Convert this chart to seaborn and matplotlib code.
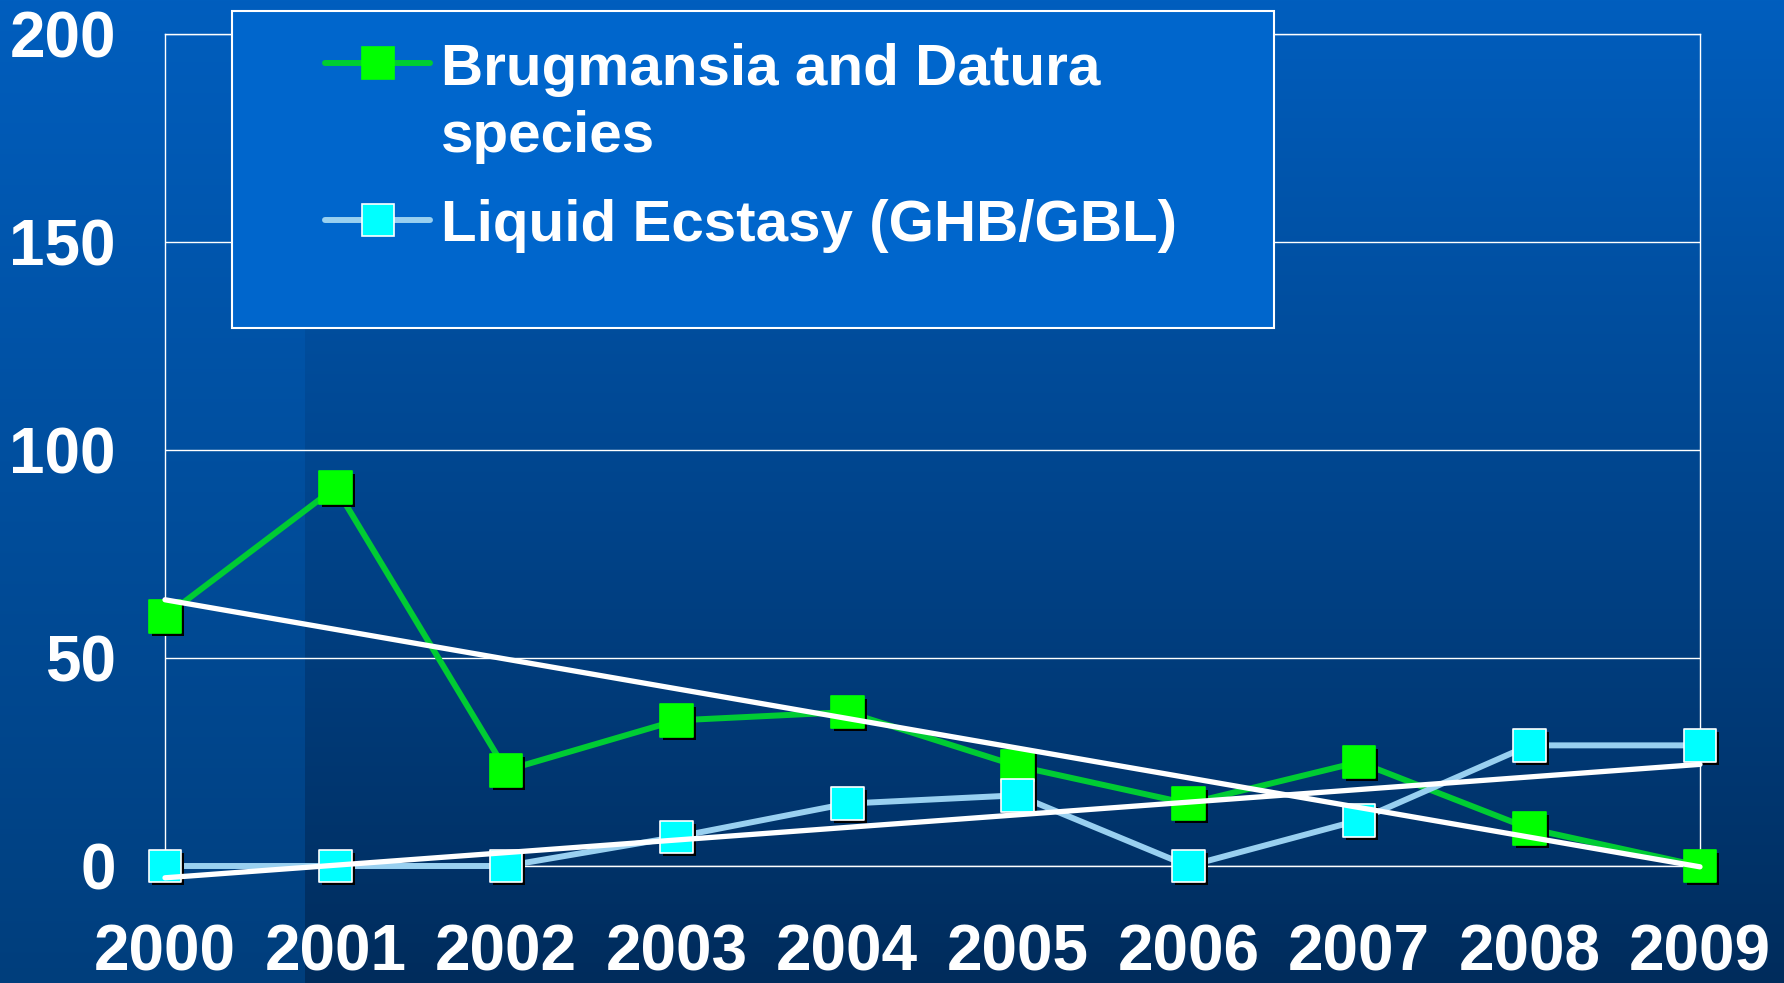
import numpy as np
import pandas as pd
import matplotlib
matplotlib.use("Agg")
import matplotlib.pyplot as plt
import seaborn as sns
from matplotlib import patheffects as pe
from matplotlib.lines import Line2D
from matplotlib.patches import Rectangle
from matplotlib.offsetbox import HPacker

# ---------------- data ----------------
years = [2000, 2001, 2002, 2003, 2004, 2005, 2006, 2007, 2008, 2009]
brugmansia = [60, 91, 23, 35, 37, 24, 15, 25, 9, 0]
ghb = [0, 0, 0, 7, 15, 17, 0, 11, 29, 29]
series_names = ["Brugmansia and Datura\nspecies", "Liquid Ecstasy (GHB/GBL)"]
y_ticks = [0, 50, 100, 150, 200]
x_labels = [str(y) for y in years]

# ---------------- style ----------------
sns.set_style("white")
plt.rcParams['font.family'] = ['Liberation Sans', 'DejaVu Sans']
plt.rcParams['font.weight'] = 'bold'

line_colors = {series_names[0]: '#00CC33', series_names[1]: '#99D0F0'}
marker_face = {series_names[0]: '#00FF00', series_names[1]: '#00FFFF'}
marker_edge = {series_names[0]: '#00FF00', series_names[1]: '#FFFFFF'}

W, H = 1784, 983
fig = plt.figure(figsize=(W / 100, H / 100), dpi=100)

# background gradient (slide)
bg = fig.add_axes([0, 0, 1, 1], zorder=-10)
t = np.linspace(0, 1, H)[:, None]
top_c = np.array([0x00, 0x5E, 0xBE]) / 255
bl_c = np.array([0x00, 0x3E, 0x7C]) / 255
br_c = np.array([0x00, 0x2C, 0x5C]) / 255
left = top_c + (bl_c - top_c) * t
right = top_c + (br_c - top_c) * t
img = np.empty((H, W, 3))
split = 305
img[:, :split] = left[:, None, :]
img[:, split:] = right[:, None, :]
bg.imshow(img, aspect='auto', extent=(0, 1, 0, 1), origin='upper')
bg.axis('off')

# ---------------- main axes ----------------
ax = fig.add_axes([165 / W, 1 - 866 / H, (1700 - 165) / W, (866 - 34) / H])
ax.set_facecolor('none')

df = pd.DataFrame({
    'year': years * 2,
    'value': brugmansia + ghb,
    'series': [series_names[0]] * len(years) + [series_names[1]] * len(years),
})

shadow = [pe.SimplePatchShadow(offset=(2.2, -2.2), shadow_rgbFace='black', alpha=1.0), pe.Normal()]

for i, name in enumerate(series_names):
    sub = df[df['series'] == name]
    sns.lineplot(data=sub, x='year', y='value', color=line_colors[name], lw=4.3,
                 ax=ax, clip_on=False, zorder=3 + 2 * i, legend=False)
    sns.scatterplot(data=sub, x='year', y='value', marker='s', s=23.5 ** 2,
                    color=marker_face[name], edgecolor=marker_edge[name], linewidth=1.2,
                    ax=ax, clip_on=False, zorder=4 + 2 * i, legend=False,
                    path_effects=shadow)

for name in series_names:
    sub = df[df['series'] == name]
    sns.regplot(data=sub, x='year', y='value', scatter=False, ci=None, truncate=True,
                color='white', ax=ax,
                line_kws=dict(lw=3.8, zorder=10, clip_on=False, solid_capstyle='round'))

ax.set_xlim(2000, 2009)
ax.set_ylim(0, 200)
ax.set_xticks(years)
ax.set_xticklabels(x_labels)
ax.set_yticks(y_ticks)
ax.set_xlabel('')
ax.set_ylabel('')
ax.tick_params(axis='both', direction='out', length=14.4, width=1, color='white',
               labelcolor='white', labelsize=46)
ax.tick_params(axis='x', pad=27)
ax.tick_params(axis='y', pad=21)
ax.set_axisbelow(True)
ax.grid(axis='y', color='white', lw=1)
ax.grid(axis='x', visible=False)
for s in ax.spines.values():
    s.set_visible(True)
    s.set_color('white')
    s.set_linewidth(1)

# ---------------- legend ----------------
rect = Rectangle((232 / W, 1 - 328 / H), (1274 - 232) / W, (328 - 11) / H,
                 transform=fig.transFigure, facecolor='#0066CC', edgecolor='white',
                 lw=1.5, zorder=20)
fig.add_artist(rect)

handles = [Line2D([], [], color=line_colors[n], lw=4.3, marker='s', markersize=23.5,
                  markerfacecolor=marker_face[n], markeredgecolor=marker_edge[n],
                  markeredgewidth=1.2) for n in series_names]
leg = fig.legend(handles, series_names, loc='upper left',
                 bbox_to_anchor=(325 / W, 1 - 43 / H), bbox_transform=fig.transFigure,
                 frameon=False, fontsize=42, handlelength=1.8, handletextpad=0.19,
                 borderpad=0, borderaxespad=0, labelspacing=0.6, labelcolor='white')
leg.set_zorder(21)
for txt in leg.get_texts():
    txt.set_linespacing(1.32)
for box in leg.findobj(lambda a: isinstance(a, HPacker)):
    box.align = 'top'

fig.savefig('out.png', dpi=100)
